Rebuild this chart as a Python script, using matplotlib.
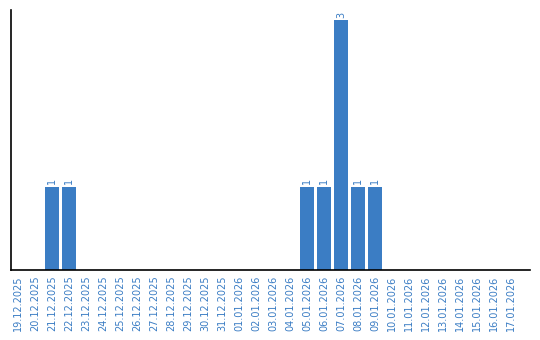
import matplotlib
matplotlib.use("Agg")
from matplotlib import pyplot as plt

dates = ["19.12.2025", "20.12.2025", "21.12.2025", "22.12.2025", "23.12.2025",
         "24.12.2025", "25.12.2025", "26.12.2025", "27.12.2025", "28.12.2025",
         "29.12.2025", "30.12.2025", "31.12.2025", "01.01.2026", "02.01.2026",
         "03.01.2026", "04.01.2026", "05.01.2026", "06.01.2026", "07.01.2026",
         "08.01.2026", "09.01.2026", "10.01.2026", "11.01.2026", "12.01.2026",
         "13.01.2026", "14.01.2026", "15.01.2026", "16.01.2026", "17.01.2026"]
counts = [0, 0, 1, 1, 0, 0, 0, 0, 0, 0, 0, 0, 0, 0, 0,
          0, 0, 1, 1, 3, 1, 1, 0, 0, 0, 0, 0, 0, 0, 0]

BLUE = "#3b7dc4"

fig = plt.figure(figsize=(5.4, 3.4), dpi=100)
ax = fig.add_axes([11/540, 70/340, 519/540, 260/340])

x = list(range(len(dates)))
ax.bar(x, counts, width=0.82, color=BLUE)

# value labels above non-empty bars
for i, c in enumerate(counts):
    if c > 0:
        ax.text(i, c + 0.03, str(c), rotation=90, ha="center", va="bottom",
                fontsize=7, color=BLUE)

ax.set_xlim(-0.41, 30.1)
ax.set_ylim(0, 3.12)
ax.set_xticks(x)
ax.set_xticklabels(dates, rotation=90, fontsize=7, color=BLUE)
ax.tick_params(axis="x", length=0, pad=4)
ax.set_yticks([])
ax.spines["top"].set_visible(False)
ax.spines["right"].set_visible(False)
ax.spines["left"].set_linewidth(1.2)
ax.spines["bottom"].set_linewidth(1.2)

plt.savefig("out.png", dpi=100)
